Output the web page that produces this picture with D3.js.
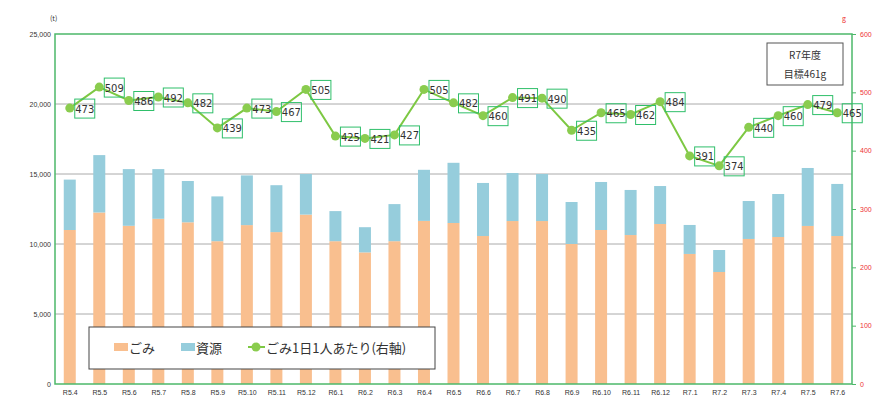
<!DOCTYPE html><html><head><meta charset="utf-8"><script src="https://cdn.jsdelivr.net/npm/d3@7"></script>
<style>body{margin:0;background:#fff;font-family:"Noto Sans CJK JP","Noto Sans",sans-serif}</style></head><body><svg id="c" width="877" height="400"></svg><script>
const categories=["R5.4","R5.5","R5.6","R5.7","R5.8","R5.9","R5.10","R5.11","R5.12","R6.1","R6.2","R6.3","R6.4","R6.5","R6.6","R6.7","R6.8","R6.9","R6.10","R6.11","R6.12","R7.1","R7.2","R7.3","R7.4","R7.5","R7.6"];
const gomi=[11000,12250,11300,11800,11550,10200,11350,10850,12100,10200,9400,10200,11650,11500,10570,11640,11640,10000,11000,10640,11430,9290,8000,10360,10500,11290,10570];
const shigen=[3600,4100,4050,3550,2950,3200,3550,3350,2900,2150,1800,2650,3650,4300,3790,3430,3360,3000,3430,3220,2710,2070,1570,2710,3070,4140,3720];
const perPerson=[473,509,486,492,482,439,473,467,505,425,421,427,505,482,460,491,490,435,465,462,484,391,374,440,460,479,465];
const leftTicks=[0,5000,10000,15000,20000,25000];
const rightTicks=[0,100,200,300,400,500,600];
const svg=d3.select("#c");
const L=55,R=852,T=34,B=384;
const x=d3.scaleBand().domain(categories).range([L,R]).paddingInner(0.6).paddingOuter(0.3);
const xc=d3.scalePoint().domain(categories).range([L+x.step()/2,R-x.step()/2]);
const y=d3.scaleLinear().domain([0,25000]).range([B,T]);
const y2=d3.scaleLinear().domain([0,600]).range([B,T]);
leftTicks.forEach(t=>{if(t>0&&t<25000)svg.append("line").attr("x1",L).attr("x2",R).attr("y1",y(t)).attr("y2",y(t)).attr("stroke","#aaa").attr("stroke-width",1);});
const bw=12;
categories.forEach((c,i)=>{
 const cx=xc(c);
 svg.append("rect").attr("x",cx-bw/2).attr("width",bw).attr("y",y(gomi[i])).attr("height",B-y(gomi[i])).attr("fill","#f9bf8f");
 svg.append("rect").attr("x",cx-bw/2).attr("width",bw).attr("y",y(gomi[i]+shigen[i])).attr("height",y(gomi[i])-y(gomi[i]+shigen[i])).attr("fill","#96cddc");
});
svg.append("rect").attr("x",L).attr("y",T).attr("width",R-L).attr("height",B-T).attr("fill","none").attr("stroke","#4cb86a").attr("stroke-width",1.5);
const la=svg.append("g").attr("transform",`translate(${L},0)`).call(d3.axisLeft(y).tickValues(leftTicks).tickFormat(d3.format(",")).tickSize(0).tickPadding(4));
la.select(".domain").remove();la.selectAll("text").attr("font-size",7).attr("fill","#333").attr("font-family","Liberation Sans");
const ra=svg.append("g").attr("transform",`translate(${R},0)`).call(d3.axisRight(y2).tickValues(rightTicks).tickSize(4).tickPadding(4));
ra.select(".domain").remove();ra.selectAll("line").attr("stroke","#4cb86a");ra.selectAll("text").attr("font-size",7).attr("fill","#e33").attr("font-family","Liberation Sans");
const ba=svg.append("g").attr("transform",`translate(0,${B})`).call(d3.axisBottom(xc).tickSize(0).tickPadding(6));
ba.select(".domain").remove();ba.selectAll("text").attr("font-size",7).attr("fill","#333").attr("font-family","Liberation Sans");
svg.append("text").attr("x",50).attr("y",21).attr("font-size",7).attr("fill","#333").text("(t)");
svg.append("text").attr("x",842).attr("y",21).attr("font-size",7).attr("fill","#e33").text("g");
const line=d3.line().x((d,i)=>xc(categories[i])).y(d=>y2(d));
svg.append("path").datum(perPerson).attr("d",line).attr("fill","none").attr("stroke","#7dc843").attr("stroke-width",2);
perPerson.forEach((v,i)=>{
 const cx=xc(categories[i]),cy=y2(v);
 svg.append("circle").attr("cx",cx).attr("cy",cy).attr("r",4.5).attr("fill","#8acc4e");
});
perPerson.forEach((v,i)=>{
 const cx=xc(categories[i])+5,cy=y2(v);
 svg.append("rect").attr("x",cx).attr("y",cy-9).attr("width",20).attr("height",19).attr("fill","none").attr("stroke","#2fbf6a").attr("stroke-width",1);
 svg.append("text").attr("x",cx+10).attr("y",cy+4.5).attr("text-anchor","middle").attr("font-size",10).attr("fill","#333").attr("font-family","DejaVu Sans").text(v);
});
svg.append("rect").attr("x",767).attr("y",43).attr("width",76).attr("height",42).attr("fill","#fff").attr("stroke","#555");
svg.append("text").attr("x",805).attr("y",59).attr("text-anchor","middle").attr("font-size",10).attr("fill","#333").text("R7年度");
svg.append("text").attr("x",805).attr("y",78).attr("text-anchor","middle").attr("font-size",10).attr("fill","#333").text("目標461g");
const lg=svg.append("g");
lg.append("rect").attr("x",89).attr("y",327).attr("width",346).attr("height",42).attr("fill","#fff").attr("stroke","#444");
lg.append("rect").attr("x",114).attr("y",343).attr("width",14).attr("height",8).attr("fill","#f9bf8f");
lg.append("text").attr("x",129).attr("y",353).attr("font-size",13).attr("fill","#333").text("ごみ");
lg.append("rect").attr("x",181).attr("y",343).attr("width",14).attr("height",8).attr("fill","#96cddc");
lg.append("text").attr("x",196).attr("y",353).attr("font-size",13).attr("fill","#333").text("資源");
lg.append("line").attr("x1",248).attr("x2",265).attr("y1",347).attr("y2",347).attr("stroke","#7dc843").attr("stroke-width",2);
lg.append("circle").attr("cx",256).attr("cy",347).attr("r",4.5).attr("fill","#8acc4e");
lg.append("text").attr("x",266).attr("y",353).attr("font-size",13).attr("fill","#333").text("ごみ1日1人あたり(右軸)");
</script></body></html>
